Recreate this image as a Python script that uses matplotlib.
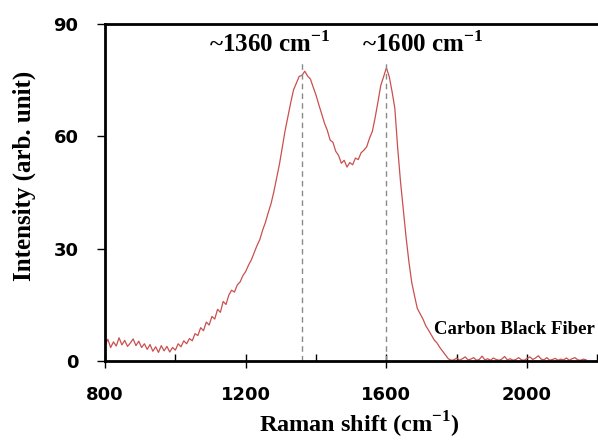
import numpy as np
import matplotlib
matplotlib.use("Agg")
import matplotlib.pyplot as plt
from matplotlib.ticker import MultipleLocator

# Raman spectrum, one value every 8 cm-1 starting at 800
step = 8
intensity = [
    # 800 - 1040 flat noisy background
    4.2, 5.8, 3.6, 5.1, 4.0, 6.2, 4.3, 5.5, 3.9, 4.8, 5.9, 4.1, 5.3, 3.6, 4.6, 3.1,
    4.4, 2.6, 3.8, 2.3, 4.1, 2.7, 3.9, 2.4, 3.6, 2.9, 4.6, 3.8, 5.4, 4.6, 6.0,
    # 1048 - 1296 rising flank of the D band
    5.4, 7.3, 6.8, 8.9, 8.1, 10.4, 9.6, 11.9, 11.2, 13.8, 13.0, 15.9, 15.1, 17.6,
    18.9, 18.4, 20.3, 21.1, 22.8, 23.9, 25.6, 27.0, 28.9, 30.8, 32.4, 34.9, 37.0,
    39.6, 42.0, 45.2, 48.9, 52.6,
    # 1304 - 1600 D band, valley, G band
    57.0, 61.5, 65.2, 69.0, 72.4, 74.2, 76.0, 76.3, 77.4, 76.1, 75.3, 73.1, 71.0,
    68.4, 66.0, 63.5, 61.6, 59.0, 58.4, 56.0, 54.9, 52.8, 53.6, 51.8, 53.0, 52.4,
    54.2, 53.8, 55.6, 56.3, 57.2, 59.5, 61.3, 65.0, 69.2, 73.6, 75.9, 78.3,
    # 1608 - 1784 falling flank
    76.0, 72.0, 67.5, 57.0, 48.0, 40.5, 33.0, 26.5, 21.0, 17.4, 14.0, 12.6, 11.2,
    9.4, 8.2, 6.9, 5.6, 4.8, 3.6, 2.6, 1.6, 0.6, 0.2,
    # 1792 - 2168 baseline
    0.3, 0.8, 0.2, 0.6, 1.1, 0.3, 0.5, 0.9, 0.2, 0.4, 1.3, 0.3, 0.6, 0.2, 0.8, 0.4,
    0.2, 0.5, 1.2, 0.3, 0.6, 0.2, 0.4, 0.9, 0.3, 0.2, 0.7, 1.1, 0.4, 0.8, 1.4, 0.5,
    0.3, 0.9, 0.2, 0.4, 0.7, 0.2, 0.5, 0.3, 0.8, 0.2, 0.6, 0.9, 0.3, 0.2, 0.5, 0.3,
]
shift = 800 + step * np.arange(len(intensity))

peaks = [1360, 1600]
peak_labels = [r"~1360 cm$^{\mathbf{-1}}$", r"~1600 cm$^{\mathbf{-1}}$"]
peak_text_x = [1268, 1702]

xticks = [800, 1200, 1600, 2000]
yticks = [0, 30, 60, 90]

plt.rcParams["mathtext.fontset"] = "custom"
plt.rcParams["mathtext.rm"] = "Liberation Serif:bold"
plt.rcParams["mathtext.bf"] = "Liberation Serif:bold"

fig = plt.figure(figsize=(5.98, 4.43), dpi=100)
ax = fig.add_axes([0.1756, 0.1851, 0.8264, 0.7607])

ax.plot(shift, intensity, color="#c9504f", lw=0.9)

# dashed markers at the two band positions
for p in peaks:
    ax.vlines(p, 0, 80.5, colors="#8a8a8a", linestyles=(0, (4, 3)), lw=1.0)

for lab, xt in zip(peak_labels, peak_text_x):
    ax.text(xt, 84.5, lab, ha="center", va="center", fontsize=18,
            family="Liberation Serif", weight="bold")

ax.text(1736, 8.5, "Carbon Black Fiber", ha="left", va="center", fontsize=13.5,
        family="Liberation Serif", weight="bold")

ax.set_xlim(800, 2205)
ax.set_ylim(0, 90)
ax.set_xticks(xticks)
ax.set_yticks(yticks)
ax.xaxis.set_minor_locator(MultipleLocator(200))

ax.tick_params(axis="x", which="major", direction="inout", length=10, width=1,
               pad=13, labelsize=13)
ax.tick_params(axis="x", which="minor", direction="in", length=5, width=1)
ax.tick_params(axis="y", which="major", direction="out", length=6, width=1,
               pad=13, labelsize=13)
for lab in ax.get_xticklabels() + ax.get_yticklabels():
    lab.set_fontweight("bold")

for s in ax.spines.values():
    s.set_linewidth(2)
ax.spines["right"].set_visible(False)

ax.set_xlabel(r"Raman shift (cm$^{\mathbf{-1}}$)", family="Liberation Serif",
              weight="bold", fontsize=17.5)
ax.xaxis.set_label_coords(0.515, -0.145)
ax.set_ylabel("Intensity (arb. unit)", family="Liberation Serif",
              weight="bold", fontsize=18)
ax.yaxis.set_label_coords(-0.14, 0.55)

fig.savefig("out.png", dpi=100)
